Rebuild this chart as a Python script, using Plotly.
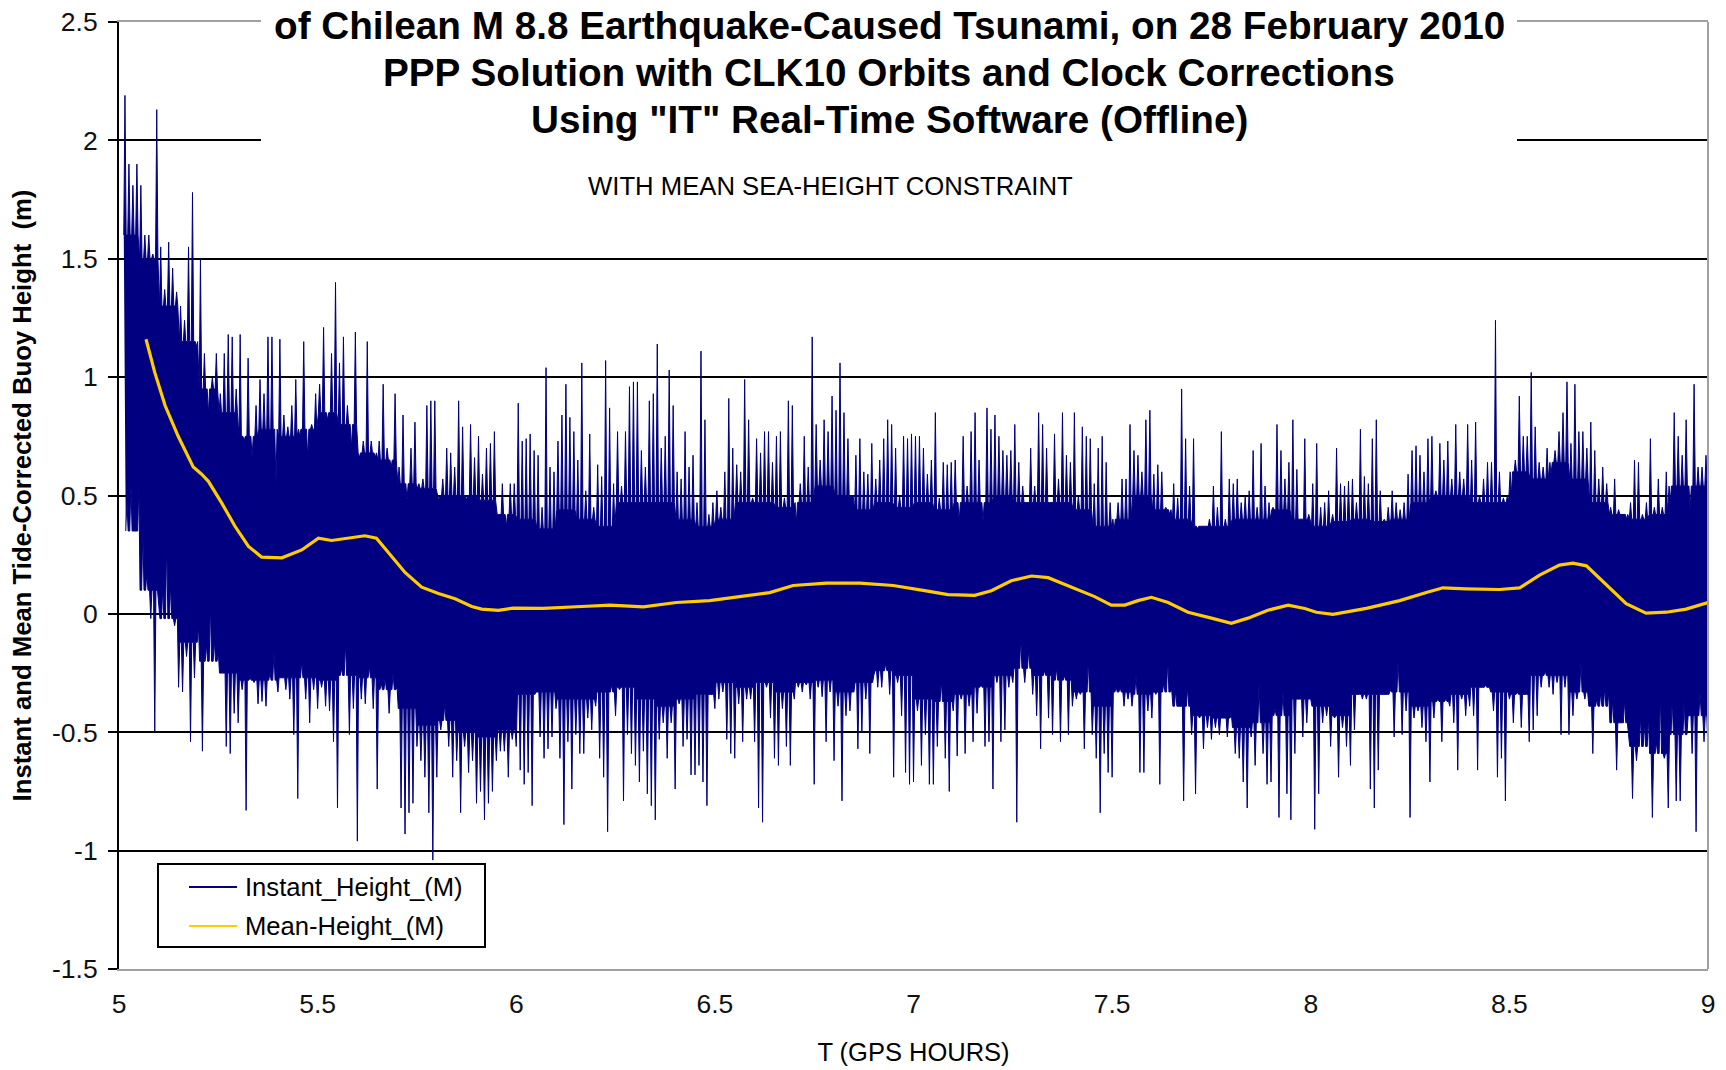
import plotly.graph_objects as go

# ---------------- data ----------------
# Mean (smoothed) tide-corrected height, metres
MEAN_T = [5.068, 5.09, 5.116, 5.149, 5.187, 5.208, 5.225, 5.258, 5.292, 5.326,
          5.359, 5.41, 5.46, 5.502, 5.535, 5.577, 5.619, 5.648, 5.678, 5.72,
          5.762, 5.804, 5.846, 5.888, 5.913, 5.955, 5.992,
          6.068, 6.152, 6.236, 6.32, 6.403, 6.487, 6.571, 6.638, 6.697, 6.781, 6.865, 6.949,
          7.028, 7.087, 7.154, 7.196, 7.246, 7.297, 7.339, 7.397, 7.456, 7.498,
          7.532, 7.565, 7.599, 7.641, 7.691, 7.75, 7.8, 7.842, 7.892, 7.943, 7.985,
          8.014, 8.056, 8.14, 8.224, 8.291, 8.333, 8.391, 8.475, 8.526, 8.576,
          8.626, 8.66, 8.694, 8.744, 8.794, 8.844, 8.895, 8.945, 9.0]
MEAN_H = [1.16, 1.02, 0.88, 0.75, 0.62, 0.59, 0.56, 0.47, 0.37, 0.285,
          0.24, 0.237, 0.27, 0.32, 0.31, 0.32, 0.33, 0.32, 0.26, 0.175,
          0.113, 0.086, 0.064, 0.031, 0.02, 0.015, 0.024,
          0.023, 0.03, 0.037, 0.03, 0.048, 0.056, 0.073, 0.09, 0.12, 0.13, 0.13, 0.12,
          0.098, 0.081, 0.078, 0.098, 0.14, 0.16, 0.153, 0.115, 0.073, 0.037,
          0.037, 0.056, 0.07, 0.048, 0.007, -0.018, -0.04, -0.018, 0.015, 0.037, 0.023,
          0.007, -0.002, 0.023, 0.056, 0.09, 0.11, 0.106, 0.103, 0.11, 0.164,
          0.206, 0.214, 0.203, 0.123, 0.043, 0.003, 0.007, 0.02, 0.048]

# Instant height: upward and downward spike tips, one pair every 0.01 h
TIP_T0 = 5.015
TIP_STEP = 0.01
UPPER_TIPS = [
    2.19, 1.90, 1.81, 1.90, 1.81, 1.60, 1.60, 1.52, 2.13, 1.55,
    1.37, 1.57, 1.46, 1.36, 1.30, 1.24, 1.55, 1.78, 1.13, 1.50,
    1.10, 0.84, 1.00, 1.10, 0.93, 1.10, 1.18, 1.17, 0.95, 1.18,
    0.73, 1.08, 0.66, 0.88, 0.99, 0.93, 1.17, 1.17, 0.55, 1.16,
    0.84, 0.79, 0.88, 0.99, 0.75, 1.15, 0.66, 0.80, 0.93, 0.97,
    1.21, 0.82, 1.10, 1.40, 1.06, 1.17, 0.88, 0.70, 1.19, 0.66,
    0.73, 1.15, 0.73, 0.66, 0.73, 0.97, 0.70, 0.62, 0.93, 0.62,
    0.84, 0.48, 0.70, 0.81, 0.55, 0.57, 0.88, 0.90, 0.90, 0.48,
    0.57, 0.70, 0.68, 0.62, 0.90, 0.79, 0.48, 0.80, 0.66, 0.75,
    0.59, 0.70, 0.72, 0.77, 0.42, 0.55, 0.37, 0.55,
    0.55, 0.89, 0.73, 0.74, 0.76, 0.69, 0.67, 0.45, 1.04, 0.62,
    0.60, 0.73, 0.84, 0.97, 0.83, 0.77, 0.65, 1.06, 0.52, 0.76,
    0.45, 0.63, 0.58, 1.07, 0.87, 0.55, 0.77, 0.54, 0.77, 0.96,
    0.98, 0.98, 0.69, 0.62, 0.90, 0.93, 1.14, 0.70, 0.75, 1.03,
    0.88, 0.60, 0.57, 0.77, 0.62, 0.67, 0.47, 1.11, 0.82, 0.42,
    0.47, 0.52, 0.45, 0.60, 0.91, 0.70, 0.63, 0.60, 0.99, 0.82,
    0.49, 0.74, 0.68, 0.77, 0.77, 0.64, 0.75, 0.77, 0.49, 0.90,
    0.88, 0.38, 0.55, 0.75, 0.62, 1.17, 0.80, 0.65, 0.82, 0.77,
    0.92, 0.86, 1.06, 0.85, 0.74, 0.50, 0.67, 0.74, 0.60, 0.59,
    0.72, 0.57, 0.65, 0.74, 0.82, 0.80, 0.70, 0.50, 0.75, 0.74,
    0.76, 0.75, 0.75, 0.70, 0.59, 0.65, 0.85, 0.49, 0.64, 0.63,
    0.64, 0.65, 0.39, 0.75, 0.54, 0.77, 0.85, 0.65, 0.39, 0.87,
    0.78, 0.84, 0.75, 0.69, 0.67, 0.69, 0.80, 0.64, 0.54, 0.47,
    0.70, 0.54, 0.85, 0.80, 0.70, 0.47, 0.76, 0.57, 0.85, 0.67,
    0.64, 0.85, 0.50, 0.79, 0.75, 0.74, 0.55, 0.70, 0.75, 0.64,
    0.47, 0.35, 0.47, 0.57, 0.57, 0.80, 0.69, 0.67, 0.60, 0.82,
    0.86, 0.59, 0.63, 0.60, 0.45, 0.42, 0.55, 0.49, 0.95, 0.74,
    0.54, 0.74, 0.36, 0.37, 0.37, 0.40, 0.54, 0.45, 0.77, 0.40,
    0.57, 0.55, 0.57, 0.47, 0.50, 0.52, 0.69, 0.45, 0.72, 0.54,
    0.47, 0.45, 0.80, 0.69, 0.57, 0.64, 0.82, 0.61, 0.40, 0.74,
    0.42, 0.55, 0.72, 0.45, 0.47, 0.52, 0.42, 0.70, 0.55, 0.54,
    0.56, 0.57, 0.47, 0.78, 0.58, 0.55, 0.74, 0.82, 0.52, 0.40,
    0.45, 0.52, 0.47, 0.44, 0.47, 0.59, 0.69, 0.71, 0.67, 0.60,
    0.74, 0.75, 0.52, 0.72, 0.65, 0.73, 0.57, 0.80, 0.60, 0.57,
    0.80, 0.65, 0.81, 0.50, 0.57, 0.64, 0.64, 1.24, 0.60, 0.49,
    0.50, 0.50, 0.65, 0.92, 0.75, 0.75, 1.02, 0.79, 0.64, 0.62,
    0.70, 0.59, 0.69, 0.77, 0.85, 0.98, 0.72, 0.97, 0.77, 0.77,
    0.70, 0.81, 0.69, 0.57, 0.62, 0.55, 0.45, 0.57, 0.44, 0.42,
    0.40, 0.47, 0.65, 0.64, 0.42, 0.47, 0.74, 0.45, 0.57, 0.45,
    0.60, 0.47, 0.85, 0.75, 0.67, 0.82, 0.44, 0.97, 0.62, 0.62,
    0.67]
LOWER_TIPS = [
    0.48, 0.55, 0.35, 0.55, 0.35, 0.17, -0.02, -0.50, 0.04, 0.11,
    0.31, 0.13, -0.05, -0.31, -0.33, -0.18, -0.54, -0.27, -0.05, -0.58,
    -0.13, 0.05, -0.11, -0.16, -0.25, -0.56, -0.59, -0.42, -0.46, -0.32,
    -0.83, -0.27, -0.29, -0.38, -0.37, -0.39, -0.25, -0.16, -0.33, -0.27,
    -0.32, -0.36, -0.51, -0.78, -0.20, -0.36, -0.46, -0.32, -0.40, -0.31,
    -0.39, -0.41, -0.54, -0.82, -0.23, -0.12, -0.51, -0.40, -0.96, -0.36,
    -0.38, -0.22, -0.40, -0.74, -0.29, -0.27, -0.42, -0.25, -0.31, -0.82,
    -0.93, -0.84, -0.80, -0.56, -0.62, -0.69, -0.84, -1.04, -0.69, -0.49,
    -0.38, -0.56, -0.69, -0.62, -0.84, -0.56, -0.67, -0.62, -0.80, -0.75,
    -0.87, -0.80, -0.75, -0.62, -0.58, -0.58, -0.69, -0.53,
    -0.56, -0.66, -0.72, -0.67, -0.81, -0.33, -0.52, -0.61, -0.57, -0.52,
    -0.40, -0.61, -0.89, -0.54, -0.74, -0.51, -0.59, -0.59, -0.44, -0.49,
    -0.39, -0.61, -0.69, -0.92, -0.30, -0.43, -0.32, -0.79, -0.51, -0.59,
    -0.64, -0.71, -0.58, -0.76, -0.81, -0.87, -0.53, -0.46, -0.61, -0.46,
    -0.74, -0.38, -0.56, -0.53, -0.68, -0.68, -0.64, -0.71, -0.81, -0.34,
    -0.40, -0.36, -0.33, -0.53, -0.59, -0.61, -0.38, -0.54, -0.36, -0.36,
    -0.54, -0.82, -0.88, -0.31, -0.44, -0.61, -0.64, -0.40, -0.56, -0.64,
    -0.36, -0.31, -0.33, -0.30, -0.36, -0.72, -0.31, -0.35, -0.54, -0.33,
    -0.62, -0.39, -0.79, -0.43, -0.41, -0.33, -0.57, -0.50, -0.36, -0.59,
    -0.26, -0.31, -0.31, -0.21, -0.34, -0.69, -0.29, -0.43, -0.67, -0.72,
    -0.71, -0.41, -0.64, -0.51, -0.72, -0.72, -0.56, -0.28, -0.61, -0.75,
    -0.41, -0.60, -0.36, -0.59, -0.39, -0.54, -0.42, -0.30, -0.56, -0.54,
    -0.74, -0.29, -0.54, -0.49, -0.31, -0.29, -0.88, -0.10, -0.29, -0.15,
    -0.34, -0.43, -0.57, -0.24, -0.44, -0.51, -0.23, -0.54, -0.26, -0.51,
    -0.39, -0.36, -0.34, -0.57, -0.19, -0.51, -0.61, -0.84, -0.59, -0.67,
    -0.69, -0.31, -0.31, -0.39, -0.36, -0.39, -0.26, -0.67, -0.67, -0.41,
    -0.44, -0.34, -0.72, -0.29, -0.19, -0.32, -0.32, -0.39, -0.79, -0.31,
    -0.51, -0.76, -0.44, -0.57, -0.48, -0.53, -0.48, -0.51, -0.44, -0.52,
    -0.42, -0.59, -0.61, -0.71, -0.82, -0.52, -0.64, -0.29, -0.59, -0.72,
    -0.71, -0.40, -0.86, -0.33, -0.76, -0.87, -0.59, -0.36, -0.52, -0.46,
    -0.36, -0.91, -0.76, -0.46, -0.43, -0.56, -0.44, -0.69, -0.48, -0.56,
    -0.64, -0.49, -0.34, -0.36, -0.36, -0.74, -0.82, -0.66, -0.34, -0.34,
    -0.32, -0.52, -0.19, -0.51, -0.41, -0.86, -0.44, -0.41, -0.48, -0.54,
    -0.71, -0.44, -0.36, -0.54, -0.36, -0.39, -0.46, -0.66, -0.36, -0.43,
    -0.39, -0.43, -0.66, -0.31, -0.30, -0.31, -0.41, -0.69, -0.61, -0.79,
    -0.36, -0.46, -0.33, -0.48, -0.34, -0.54, -0.49, -0.43, -0.31, -0.24,
    -0.31, -0.34, -0.29, -0.51, -0.31, -0.51, -0.43, -0.36, -0.20, -0.36,
    -0.39, -0.59, -0.36, -0.33, -0.31, -0.33, -0.36, -0.66, -0.46, -0.36,
    -0.51, -0.78, -0.62, -0.43, -0.46, -0.43, -0.86, -0.54, -0.33, -0.61,
    -0.82, -0.36, -0.79, -0.79, -0.36, -0.43, -0.59, -0.92, -0.33, -0.54,
    -0.59]

# Level of the solid (dense) part of the instant-height band, per 0.05 h block
CORE_T0 = 5.0
CORE_STEP = 0.05
CORE_TOP = [
    1.60, 1.50, 1.30, 1.15, 0.95, 0.85, 0.75, 0.78, 0.75, 0.78,
    0.85, 0.80, 0.68, 0.65, 0.55, 0.53, 0.50, 0.50, 0.48, 0.42,
    0.40, 0.36, 0.44, 0.40, 0.37, 0.47, 0.47, 0.47, 0.40, 0.37,
    0.40, 0.47, 0.47, 0.45, 0.47, 0.54, 0.50, 0.44, 0.47, 0.45,
    0.47, 0.44, 0.47, 0.47, 0.50, 0.47, 0.47, 0.47, 0.44, 0.37,
    0.40, 0.50, 0.44, 0.40, 0.37, 0.37, 0.40, 0.40, 0.44, 0.40,
    0.37, 0.39, 0.40, 0.39, 0.40, 0.47, 0.50, 0.50, 0.47, 0.47,
    0.60, 0.57, 0.64, 0.57, 0.47, 0.42, 0.40, 0.42, 0.54, 0.54]
CORE_BOTTOM = [
    0.35, 0.10, -0.02, -0.12, -0.20, -0.25, -0.28, -0.28, -0.27, -0.27,
    -0.28, -0.26, -0.27, -0.32, -0.40, -0.47, -0.45, -0.50, -0.52, -0.49,
    -0.34, -0.33, -0.36, -0.36, -0.33, -0.31, -0.36, -0.39, -0.36, -0.34,
    -0.29, -0.31, -0.29, -0.33, -0.29, -0.28, -0.33, -0.29, -0.24, -0.26,
    -0.36, -0.37, -0.34, -0.31, -0.26, -0.23, -0.26, -0.28, -0.33, -0.39,
    -0.33, -0.34, -0.33, -0.39, -0.43, -0.44, -0.48, -0.46, -0.43, -0.36,
    -0.39, -0.43, -0.34, -0.34, -0.33, -0.39, -0.37, -0.34, -0.31, -0.33,
    -0.34, -0.26, -0.26, -0.33, -0.39, -0.46, -0.56, -0.59, -0.51, -0.43]

X_TICKS = [5, 5.5, 6, 6.5, 7, 7.5, 8, 8.5, 9]
X_TICK_LABELS = ["5", "5.5", "6", "6.5", "7", "7.5", "8", "8.5", "9"]
Y_TICKS = [-1.5, -1, -0.5, 0, 0.5, 1, 1.5, 2, 2.5]
Y_TICK_LABELS = ["-1.5", "-1", "-0.5", "0", "0.5", "1", "1.5", "2", "2.5"]

TITLE_LINES = ["of Chilean M 8.8 Earthquake-Caused Tsunami, on 28 February 2010",
               "PPP Solution with CLK10 Orbits and Clock Corrections",
               "Using \"IT\" Real-Time Software (Offline)"]
SUBTITLE = "WITH MEAN SEA-HEIGHT CONSTRAINT"
SERIES_NAMES = ["Instant_Height_(M)", "Mean-Height_(M)"]

# ---------------- styles ----------------
NAVY = "#000080"
GOLD = "#FFCC00"
FONT = "Liberation Sans, Arial, Helvetica, sans-serif"
NARROW = "Liberation Sans Narrow, Arial Narrow, Liberation Sans, sans-serif"


def core_level(levels, t):
    k = int((t - CORE_T0) / CORE_STEP)
    k = max(0, min(len(levels) - 1, k))
    return levels[k]


# outline of the instant-height band: spikes rising from the dense core
HALF = 0.003
up_x, up_y = [], []
for i, v in enumerate(UPPER_TIPS):
    t = TIP_T0 + i * TIP_STEP
    up_x += [t - HALF, t, t + HALF]
    up_y += [core_level(CORE_TOP, t - HALF), v, core_level(CORE_TOP, t + HALF)]
lo_x, lo_y = [], []
for i, v in enumerate(LOWER_TIPS):
    t = TIP_T0 + i * TIP_STEP + TIP_STEP / 2
    lo_x += [t - HALF, t, t + HALF]
    lo_y += [core_level(CORE_BOTTOM, t - HALF), v, core_level(CORE_BOTTOM, t + HALF)]
band_x = up_x + lo_x[::-1]
band_y = up_y + lo_y[::-1]

fig = go.Figure()
fig.add_trace(go.Scatter(
    x=band_x, y=band_y, mode="lines", fill="toself", fillcolor=NAVY,
    line=dict(color=NAVY, width=1), name=SERIES_NAMES[0], showlegend=False,
    hoverinfo="skip"))
fig.add_trace(go.Scatter(
    x=MEAN_T, y=MEAN_H, mode="lines", line=dict(color=GOLD, width=3.2),
    name=SERIES_NAMES[1], showlegend=False))

# placement on the 1726x1070 page: plot area x 119..1708, y 22..969
W, H = 1726, 1070
PL, PR, PT, PB = 119, 1708, 22, 969


def px(xp):
    return (xp - PL) / (PR - PL)


def py(yp):
    return (PB - yp) / (PB - PT)


shapes = []
# white box behind the title (hides top border and the 2.0 gridline)
shapes.append(dict(type="rect", xref="paper", yref="paper",
                   x0=px(261), x1=px(1517), y0=py(147), y1=py(10),
                   fillcolor="white", line=dict(width=0), layer="above"))
# right border
shapes.append(dict(type="line", xref="paper", yref="paper", x0=1, x1=1, y0=0, y1=1,
                   line=dict(color="#A0A0A0", width=2), layer="above"))
# legend box
shapes.append(dict(type="rect", xref="paper", yref="paper",
                   x0=px(158), x1=px(485), y0=py(947), y1=py(864),
                   fillcolor="white", line=dict(color="black", width=2), layer="above"))
legend_rows = [(887, NAVY), (926, GOLD)]
for yy, col in legend_rows:
    shapes.append(dict(type="line", xref="paper", yref="paper",
                       x0=px(189), x1=px(237), y0=py(yy), y1=py(yy),
                       line=dict(color=col, width=2), layer="above"))

annotations = []
for line_text, yy in zip(TITLE_LINES, [25.5, 72, 119]):
    annotations.append(dict(text="<b>" + line_text + "</b>", xref="paper", yref="paper",
                            x=px(889), y=py(yy), xanchor="center", yanchor="middle",
                            showarrow=False, font=dict(family=FONT, size=38.7, color="black")))
annotations.append(dict(text=SUBTITLE, xref="paper", yref="paper", x=px(830), y=py(186),
                        xanchor="center", yanchor="middle", showarrow=False,
                        font=dict(family=NARROW, size=25.7, color="black")))
for (yy, col), name in zip(legend_rows, SERIES_NAMES):
    annotations.append(dict(text=name, xref="paper", yref="paper", x=px(243), y=py(yy),
                            xanchor="left", yanchor="middle", showarrow=False,
                            font=dict(family=FONT, size=25.6, color="black")))

fig.update_layout(
    width=W, height=H,
    margin=dict(l=PL, r=W - PR, t=PT, b=H - PB, autoexpand=False),
    paper_bgcolor="white", plot_bgcolor="white",
    showlegend=False,
    font=dict(family=FONT, color="#111111"),
    shapes=shapes, annotations=annotations,
)
fig.update_xaxes(
    range=[5, 9], tickvals=X_TICKS, ticktext=X_TICK_LABELS, automargin=False,
    showgrid=False, zeroline=False, showline=True, linecolor="#A0A0A0", linewidth=2,
    mirror=True, ticks="", tickfont=dict(size=26.5, family=FONT, color="#111111"),
    ticklabelstandoff=10, ticklabeloverflow="allow",
    title=dict(text="T (GPS HOURS)", font=dict(size=25.5, family=NARROW, color="black"), standoff=25),
)
fig.update_yaxes(
    range=[-1.5, 2.5], tickvals=Y_TICKS, ticktext=Y_TICK_LABELS, automargin=False,
    showgrid=True, gridcolor="#000000", gridwidth=1.5, zeroline=False,
    showline=True, linecolor="black", linewidth=2,
    ticks="outside", ticklen=9, tickwidth=2, tickcolor="black",
    tickfont=dict(size=26.5, family=FONT, color="#111111"), ticklabelstandoff=5,
    ticklabeloverflow="allow",
    title=dict(text="<b>Instant and Mean Tide-Corrected Buoy Height\u00a0 (m)</b>",
               font=dict(size=25.7, family=FONT, color="black"), standoff=13),
)

# the page's default 8px body margin is removed so the figure fills the window exactly
fig.write_html("out.html", config={"displayModeBar": False},
               post_script="document.body.style.margin='0px';")
